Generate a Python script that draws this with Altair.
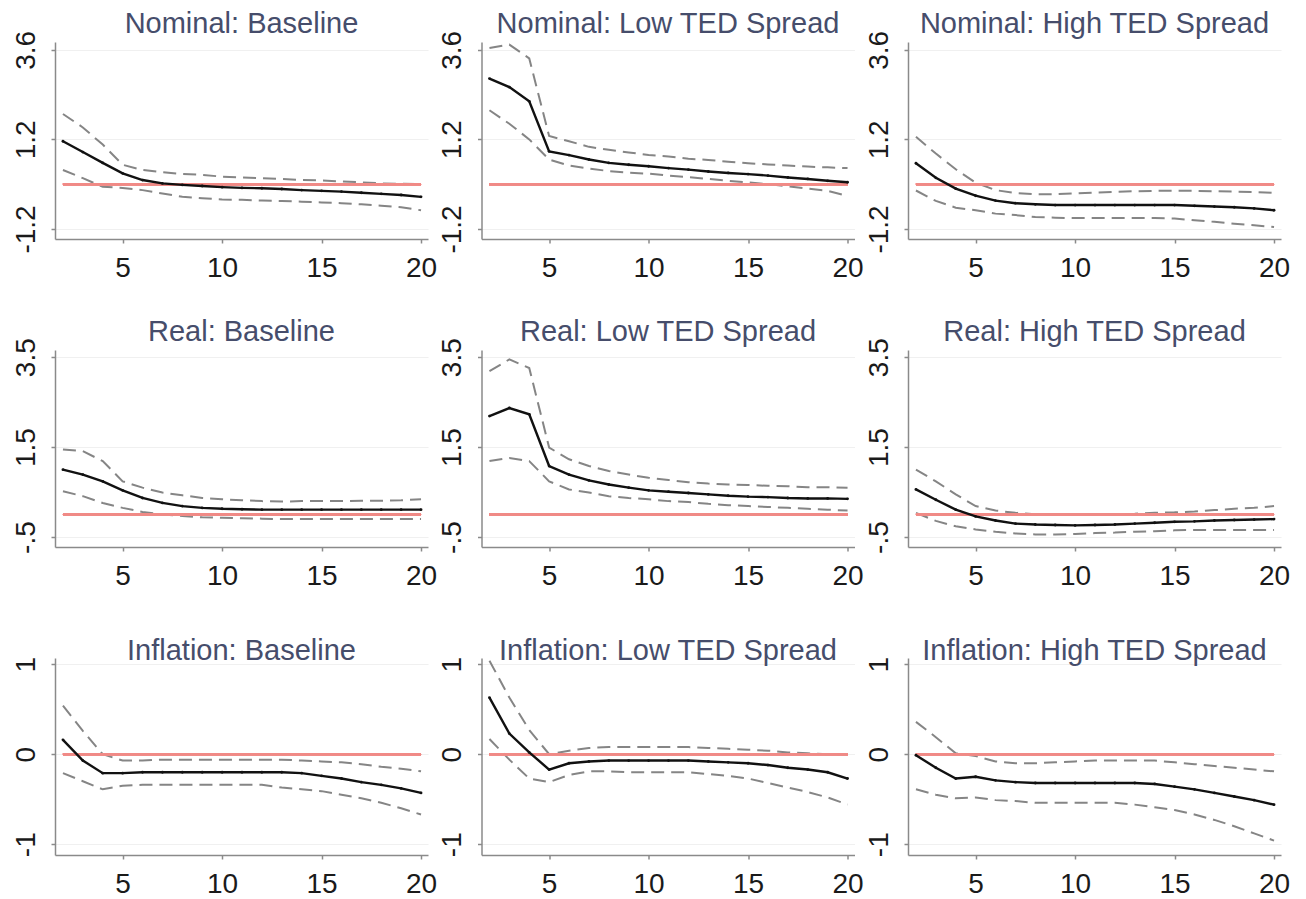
import altair as alt
import pandas as pd

horizons = list(range(2, 21))

# ---- Nominal ----
nominal_base_est = [1.15, 0.86, 0.57, 0.29, 0.11, 0.02, -0.02, -0.05, -0.08, -0.10, -0.11, -0.13, -0.16, -0.18, -0.20, -0.23, -0.26, -0.29, -0.34]
nominal_base_up = [1.88, 1.52, 1.06, 0.52, 0.38, 0.32, 0.27, 0.25, 0.20, 0.18, 0.16, 0.14, 0.11, 0.10, 0.07, 0.05, 0.02, 0.01, 0.00]
nominal_base_lo = [0.38, 0.16, -0.07, -0.10, -0.16, -0.25, -0.34, -0.38, -0.41, -0.42, -0.44, -0.45, -0.47, -0.49, -0.51, -0.54, -0.58, -0.62, -0.70]

nominal_low_est = [2.83, 2.60, 2.22, 0.88, 0.78, 0.66, 0.57, 0.52, 0.48, 0.43, 0.39, 0.34, 0.30, 0.27, 0.23, 0.18, 0.14, 0.09, 0.05]
nominal_low_up = [3.65, 3.74, 3.37, 1.29, 1.15, 1.00, 0.92, 0.85, 0.78, 0.74, 0.68, 0.65, 0.60, 0.56, 0.53, 0.50, 0.47, 0.45, 0.43]
nominal_low_lo = [1.98, 1.62, 1.20, 0.66, 0.50, 0.42, 0.35, 0.31, 0.28, 0.23, 0.19, 0.14, 0.09, 0.05, 0.00, -0.06, -0.12, -0.18, -0.32]

nominal_high_est = [0.56, 0.17, -0.12, -0.31, -0.44, -0.51, -0.54, -0.56, -0.56, -0.56, -0.56, -0.56, -0.56, -0.56, -0.58, -0.60, -0.62, -0.65, -0.70]
nominal_high_up = [1.27, 0.82, 0.40, 0.04, -0.16, -0.24, -0.27, -0.27, -0.25, -0.23, -0.21, -0.19, -0.18, -0.18, -0.18, -0.19, -0.20, -0.21, -0.23]
nominal_high_lo = [-0.17, -0.45, -0.63, -0.70, -0.79, -0.83, -0.88, -0.90, -0.91, -0.91, -0.91, -0.91, -0.91, -0.92, -0.97, -1.01, -1.06, -1.10, -1.15]

# ---- Real ----
real_base_est = [1.00, 0.89, 0.74, 0.54, 0.37, 0.26, 0.19, 0.15, 0.13, 0.12, 0.11, 0.11, 0.11, 0.11, 0.11, 0.11, 0.11, 0.11, 0.11]
real_base_up = [1.45, 1.41, 1.19, 0.74, 0.60, 0.49, 0.43, 0.37, 0.34, 0.32, 0.30, 0.29, 0.30, 0.30, 0.30, 0.31, 0.31, 0.32, 0.34]
real_base_lo = [0.52, 0.41, 0.26, 0.15, 0.06, 0.00, -0.03, -0.06, -0.07, -0.08, -0.09, -0.10, -0.10, -0.10, -0.10, -0.10, -0.10, -0.10, -0.10]

real_low_est = [2.19, 2.37, 2.23, 1.08, 0.89, 0.76, 0.67, 0.60, 0.54, 0.51, 0.48, 0.45, 0.42, 0.40, 0.39, 0.37, 0.36, 0.36, 0.35]
real_low_up = [3.19, 3.45, 3.26, 1.49, 1.23, 1.08, 0.97, 0.89, 0.82, 0.77, 0.72, 0.69, 0.67, 0.66, 0.64, 0.63, 0.61, 0.61, 0.60]
real_low_lo = [1.19, 1.26, 1.19, 0.74, 0.56, 0.49, 0.41, 0.37, 0.34, 0.30, 0.28, 0.24, 0.21, 0.19, 0.17, 0.15, 0.13, 0.11, 0.09]

real_high_est = [0.56, 0.33, 0.11, -0.04, -0.13, -0.20, -0.22, -0.23, -0.24, -0.23, -0.22, -0.20, -0.18, -0.16, -0.15, -0.13, -0.12, -0.11, -0.10]
real_high_up = [1.00, 0.74, 0.45, 0.19, 0.09, 0.04, 0.01, 0.00, 0.00, 0.00, 0.01, 0.02, 0.04, 0.05, 0.07, 0.10, 0.13, 0.15, 0.19]
real_high_lo = [0.04, -0.14, -0.26, -0.33, -0.38, -0.42, -0.44, -0.44, -0.43, -0.41, -0.40, -0.38, -0.37, -0.35, -0.34, -0.34, -0.34, -0.34, -0.34]

# ---- Inflation ----
infl_base_est = [0.16, -0.07, -0.21, -0.21, -0.20, -0.20, -0.20, -0.20, -0.20, -0.20, -0.20, -0.20, -0.21, -0.24, -0.27, -0.31, -0.34, -0.38, -0.43]
infl_base_up = [0.54, 0.26, 0.00, -0.07, -0.07, -0.06, -0.06, -0.06, -0.06, -0.06, -0.06, -0.06, -0.07, -0.08, -0.09, -0.11, -0.14, -0.16, -0.19]
infl_base_lo = [-0.21, -0.30, -0.39, -0.35, -0.34, -0.34, -0.34, -0.34, -0.34, -0.34, -0.34, -0.37, -0.39, -0.41, -0.45, -0.49, -0.54, -0.60, -0.67]

infl_low_est = [0.63, 0.23, 0.02, -0.17, -0.10, -0.08, -0.07, -0.07, -0.07, -0.07, -0.07, -0.08, -0.09, -0.10, -0.12, -0.15, -0.17, -0.20, -0.27]
infl_low_up = [1.04, 0.63, 0.27, 0.00, 0.04, 0.07, 0.08, 0.08, 0.08, 0.08, 0.08, 0.07, 0.06, 0.05, 0.04, 0.02, 0.01, 0.00, 0.00]
infl_low_lo = [0.17, -0.06, -0.27, -0.31, -0.23, -0.19, -0.19, -0.20, -0.20, -0.20, -0.20, -0.22, -0.24, -0.27, -0.32, -0.37, -0.42, -0.48, -0.56]

infl_high_est = [-0.01, -0.15, -0.27, -0.25, -0.29, -0.31, -0.32, -0.32, -0.32, -0.32, -0.32, -0.32, -0.33, -0.36, -0.39, -0.43, -0.47, -0.51, -0.56]
infl_high_up = [0.36, 0.19, 0.01, -0.02, -0.08, -0.10, -0.10, -0.09, -0.08, -0.07, -0.07, -0.07, -0.07, -0.09, -0.11, -0.13, -0.15, -0.17, -0.19]
infl_high_lo = [-0.39, -0.45, -0.49, -0.48, -0.51, -0.52, -0.54, -0.54, -0.54, -0.54, -0.54, -0.56, -0.59, -0.62, -0.67, -0.73, -0.80, -0.88, -0.96]

# ---- axes ----
x_ticks = [5, 10, 15, 20]
nominal_ticks = [-1.2, 1.2, 3.6]
nominal_tick_labels = ["-1.2", "1.2", "3.6"]
real_ticks = [-0.5, 1.5, 3.5]
real_tick_labels = ["-.5", "1.5", "3.5"]
infl_ticks = [-1, 0, 1]
infl_tick_labels = ["-1", "0", "1"]

nominal_domain = [-1.47, 3.81]
real_domain = [-0.72, 3.66]
infl_domain = [-1.12, 1.07]
x_domain = [1.6, 20.35]

regimes = ["Baseline", "Low TED Spread", "High TED Spread"]

rows_spec = [
    ("Nominal", nominal_domain, nominal_ticks, nominal_tick_labels,
     [(nominal_base_est, nominal_base_up, nominal_base_lo),
      (nominal_low_est, nominal_low_up, nominal_low_lo),
      (nominal_high_est, nominal_high_up, nominal_high_lo)]),
    ("Real", real_domain, real_ticks, real_tick_labels,
     [(real_base_est, real_base_up, real_base_lo),
      (real_low_est, real_low_up, real_low_lo),
      (real_high_est, real_high_up, real_high_lo)]),
    ("Inflation", infl_domain, infl_ticks, infl_tick_labels,
     [(infl_base_est, infl_base_up, infl_base_lo),
      (infl_low_est, infl_low_up, infl_low_lo),
      (infl_high_est, infl_high_up, infl_high_lo)]),
]

W, H = 373, 197
FONT = "Liberation Sans"


def label_expr(ticks, labels):
    parts = []
    for t, l in zip(ticks, labels):
        parts.append(f"abs(datum.value - ({t})) < 1e-6 ? '{l}' : ")
    return "".join(parts) + "''"


def panel(title, est, up, lo, ydom, yticks, ylabels):
    df = pd.DataFrame({"h": horizons, "est": est, "up": up, "lo": lo})
    x = alt.X("h:Q", scale=alt.Scale(domain=x_domain, nice=False, zero=False),
              axis=alt.Axis(values=x_ticks, title=None, grid=False, format="d"))
    yscale = alt.Scale(domain=ydom, nice=False, zero=False)
    yaxis = alt.Axis(values=yticks, title=None, grid=True,
                     labelExpr=label_expr(yticks, ylabels))
    base = alt.Chart(df)
    zero = base.mark_rule(color="#f08a86", strokeWidth=2).encode(
        x=alt.datum(2), x2=alt.datum(20), y=alt.datum(0))
    upper = base.mark_line(color="#858585", strokeWidth=2, strokeDash=[13, 7]).encode(
        x=x, y=alt.Y("up:Q", scale=yscale, axis=yaxis))
    lower = base.mark_line(color="#858585", strokeWidth=2, strokeDash=[13, 7]).encode(
        x=x, y=alt.Y("lo:Q", scale=yscale, axis=yaxis))
    mid = base.mark_line(color="#111111", strokeWidth=2.4,
                         point=alt.OverlayMarkDef(filled=True, size=8, color="#111111")).encode(
        x=x, y=alt.Y("est:Q", scale=yscale, axis=yaxis))
    return alt.layer(upper, lower, zero, mid).properties(
        width=W, height=H,
        title=alt.TitleParams(title, anchor="middle", frame="group", offset=-9))


panels = []
for name, ydom, yticks, ylabels, series in rows_spec:
    for regime, (est, up, lo) in zip(regimes, series):
        panels.append(panel(f"{name}: {regime}", est, up, lo, ydom, yticks, ylabels))

chart = alt.concat(*panels, columns=3, spacing={"row": 111, "column": 53.5},
                   bounds="flush").properties(
    padding={"left": 12, "top": 10, "right": 5, "bottom": 0},
    background="white",
).configure_view(stroke=None).configure_axis(
    domainColor="#8a8a8a", domainWidth=1.5, tickColor="#8a8a8a", tickSize=4, tickWidth=1.5,
    labelFont=FONT, labelFontSize=28, labelColor="#1a1a1a",
    gridColor="#f0f0f0", gridWidth=1.2,
).configure_axisX(
    labelPadding=11, labelAngle=0,
).configure_axisY(
    labelAngle=270, labelAlign="center", labelBaseline="alphabetic", labelPadding=17,
    minExtent=40, maxExtent=40,
).configure_title(
    font=FONT, fontSize=29, fontWeight="normal", color="#464d6b",
)

chart.save("out.html", embed_options={"renderer": "svg", "actions": False})
